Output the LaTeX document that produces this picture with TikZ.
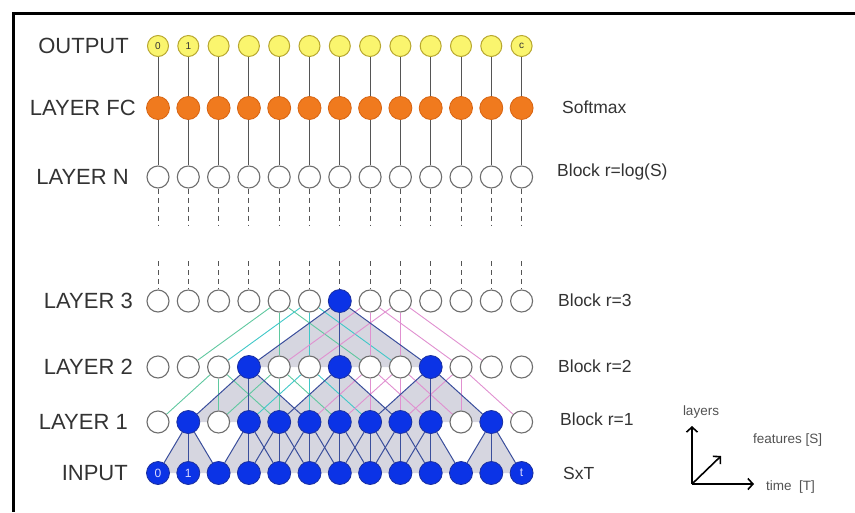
\documentclass[tikz,border=0pt]{standalone}
\usepackage{fontspec}
\setmainfont{Liberation Sans}
\usetikzlibrary{arrows.meta}
\definecolor{bluefill}{HTML}{0B33E6}
\definecolor{blueedge}{HTML}{1A2F9F}
\definecolor{orfill}{HTML}{F07A1E}
\definecolor{oredge}{HTML}{D86412}
\definecolor{yefill}{HTML}{FAF56E}
\definecolor{yeedge}{HTML}{B8A830}
\definecolor{openedge}{HTML}{6E6E6E}
\definecolor{linkgrey}{HTML}{555555}
\definecolor{linkblue}{HTML}{3A4E9C}
\definecolor{linkgreen}{HTML}{60C8A0}
\definecolor{linkteal}{HTML}{40C8C8}
\definecolor{linkpink}{HTML}{E090D0}
\definecolor{shadecol}{HTML}{D6D6E0}
\definecolor{txtcol}{HTML}{333333}
\pgfdeclarelayer{bg}
\pgfsetlayers{bg,main}
\begin{document}
\begin{tikzpicture}[x=1pt,y=-1pt,
  outn/.style={circle,draw=yeedge,fill=yefill,line width=1pt,minimum size=21pt,inner sep=0pt,font=\fontsize{10}{10}\selectfont,text=txtcol},
  fcn/.style={circle,draw=oredge,fill=orfill,line width=0.8pt,minimum size=23pt,inner sep=0pt},
  openn/.style={circle,draw=openedge,fill=white,line width=1.1pt,minimum size=22pt,inner sep=0pt},
  bluen/.style={circle,draw=blueedge,fill=bluefill,line width=0.8pt,minimum size=23pt,inner sep=0pt,font=\fontsize{12}{12}\selectfont,text=white!85!blue},
  greyl/.style={draw=linkgrey,line width=1pt},
  dashl/.style={draw=linkgrey,line width=1pt,dash pattern=on 5pt off 4pt},
  bluel/.style={draw=linkblue,line width=1pt},
  grnl/.style={draw=linkgreen,line width=0.9pt},
  teall/.style={draw=linkteal,line width=0.9pt},
  pnkl/.style={draw=linkpink,line width=0.9pt},
  shadef/.style={fill=shadecol},
  leftlab/.style={anchor=east,font=\fontsize{22}{22}\selectfont,text=txtcol,inner sep=0pt},
  rightlab/.style={anchor=west,font=\fontsize{17.5}{17.5}\selectfont,text=txtcol,inner sep=0pt},
  axlab/.style={font=\fontsize{13.5}{13.5}\selectfont,text=txtcol!85,inner sep=0pt},
  axarrow/.style={draw=black,line width=1.6pt,-{Straight Barb[length=5pt,width=11pt]}}
]
\useasboundingbox (0,0) rectangle (855,512);
% frame
\draw[line width=3pt] (855,13) -- (13,13) -- (13,512);

% nodes
\foreach \k/\t in {0/0,1/1,2/,3/,4/,5/,6/,7/,8/,9/,10/,11/,12/c}
  \node[outn] (O\k) at ({158+30.3*\k},46) {\t};
\foreach \k in {0,...,12}{
  \node[fcn] (F\k) at ({158+30.3*\k},108) {};
  \node[openn] (N\k) at ({158+30.3*\k},177) {};
  \coordinate (Nd\k) at ({158+30.3*\k},226);
  \coordinate (Au\k) at ({158+30.3*\k},261);
}
\foreach \k/\s in {0/openn,1/openn,2/openn,3/openn,4/openn,5/openn,6/bluen,7/openn,8/openn,9/openn,10/openn,11/openn,12/openn}
  \node[\s] (A\k) at ({158+30.3*\k},301) {};
\foreach \k/\s in {0/openn,1/openn,2/openn,3/bluen,4/openn,5/openn,6/bluen,7/openn,8/openn,9/bluen,10/openn,11/openn,12/openn}
  \node[\s] (B\k) at ({158+30.3*\k},367) {};
\foreach \k/\s in {0/openn,1/bluen,2/openn,3/bluen,4/bluen,5/bluen,6/bluen,7/bluen,8/bluen,9/bluen,10/openn,11/bluen,12/openn}
  \node[\s] (C\k) at ({158+30.3*\k},422) {};
\foreach \k/\t in {0/0,1/1,2/,3/,4/,5/,6/,7/,8/,9/,10/,11/,12/t}
  \node[bluen] (I\k) at ({158+30.3*\k},473) {\t};

% connectors
\begin{pgfonlayer}{bg}
  \fill[shadef] (C1.center) -- (I0.center) -- (I2.center) -- cycle;
  \fill[shadef] (C3.center) -- (C9.center) -- (I10.center) -- (I2.center) -- cycle;
  \fill[shadef] (C11.center) -- (I10.center) -- (I12.center) -- cycle;
  \fill[shadef] (B3.center) -- (C1.center) -- (C5.center) -- cycle;
  \fill[shadef] (B6.center) -- (C4.center) -- (C8.center) -- cycle;
  \fill[shadef] (B9.center) -- (C7.center) -- (C11.center) -- cycle;
  \fill[shadef] (A6.center) -- (B3.center) -- (B9.center) -- cycle;
  \foreach \k in {0,...,12}{
    \draw[greyl] (O\k) -- (F\k);
    \draw[greyl] (F\k) -- (N\k);
    \draw[dashl] (N\k) -- (Nd\k);
    \draw[dashl] (Au\k) -- (A\k);
  }
  % layer 3 -> layer 2 (dilation 3)
  \foreach \k/\c in {4/grnl,5/teall,7/pnkl,8/pnkl,6/bluel}
    \foreach \d in {-3,0,3}{
      \pgfmathtruncatemacro\j{\k+\d}
      \draw[\c] (A\k) -- (B\j);
    }
  % layer 2 -> layer 1 (dilation 2)
  \foreach \k/\c in {2/grnl,4/grnl,5/teall,7/pnkl,8/pnkl,10/pnkl,3/bluel,6/bluel,9/bluel}
    \foreach \d in {-2,0,2}{
      \pgfmathtruncatemacro\j{\k+\d}
      \draw[\c] (B\k) -- (C\j);
    }
  % layer 1 -> input (dilation 1)
  \foreach \k in {1,3,4,5,6,7,8,9,11}
    \foreach \d in {-1,0,1}{
      \pgfmathtruncatemacro\j{\k+\d}
      \draw[bluel] (C\k) -- (I\j);
    }
\end{pgfonlayer}

% left labels
\node[leftlab] (lo) at (129,46) {OUTPUT};
\node[leftlab] (lf) at (136,108) {LAYER FC};
\node[leftlab] (ln) at (129,177) {LAYER N};
\node[leftlab] (l3) at (133,301) {LAYER 3};
\node[leftlab] (l2) at (133,367) {LAYER 2};
\node[leftlab] (l1) at (128,422) {LAYER 1};
\node[leftlab] (li) at (128,473) {INPUT};

% right labels
\node[rightlab] (rs) at (562,107) {Softmax};
\node[rightlab] (rn) at (557,172) {Block r=log(S)};
\node[rightlab] (r3) at (558,300) {Block r=3};
\node[rightlab] (r2) at (558,366) {Block r=2};
\node[rightlab] (r1) at (560,419) {Block r=1};
\node[rightlab] (rt) at (563,473) {SxT};

% axes
\coordinate (ax) at (692,484);
\coordinate (axU) at (692,426);
\coordinate (axR) at (754,484);
\coordinate (axD) at (721,456);
\draw[axarrow] (ax) -- (axU);
\draw[axarrow] (ax) -- (axR);
\draw[axarrow] (ax) -- (axD);
\node[axlab] (tl) at (701,412) {layers};
\node[axlab,anchor=west] (tf) at (753,440) {features [S]};
\node[axlab,anchor=west] (tt) at (766,487) {time\ \ [T]};
\end{tikzpicture}
\end{document}
